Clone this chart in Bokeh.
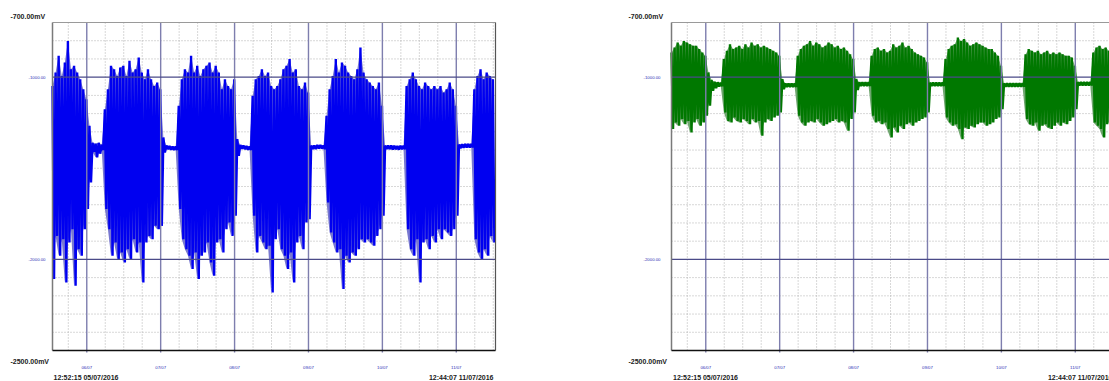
from bokeh.plotting import figure
from bokeh.models import Range1d, Grid
from bokeh.core.properties import value
from bokeh.layouts import row
from bokeh.embed import file_html
from bokeh.resources import INLINE

# hours since 12:52:15 05/07/2016
HOURS = list(range(144))
END_HOURS = 143.864  # 12:44:07 11/07/2016

blue_hi = [-1048, -974, -883, -993, -919, -801, -956, -938, -974, -1011, -1066, -1121, -1267,
           -1360, -1365, -1360, -1370,
           -1176, -1066, -938, -956, -993, -947, -938, -993, -910, -974, -956, -892, -974, -1011,
           -956, -1011, -1048, -1029, -1066,
           -1331, -1375, -1378, -1380, -1380,
           -1157, -1011, -956, -974, -883, -974, -938, -993, -956, -938, -919, -974, -938, -974,
           -1066, -1011, -1048, -1066, -1011,
           -1340, -1372, -1375, -1378, -1380,
           -1102, -1011, -993, -956, -993, -974, -1048, -1066, -1048, -1011, -956, -938, -901,
           -974, -956, -1048, -1066, -1029, -1084,
           -1375, -1375, -1372, -1372, -1375,
           -1212, -1066, -993, -901, -974, -919, -938, -974, -993, -1011, -956, -837, -974,
           -1011, -1029, -1048, -1066, -1029, -1157,
           -1375, -1375, -1375, -1376, -1378, -1376, -1376,
           -1048, -1011, -974, -1011, -1048, -1066, -1029, -1048, -1066, -1048, -1066, -1048,
           -1084, -1066, -1029, -1066, -1157,
           -1370, -1368, -1366, -1366, -1366,
           -1066, -993, -956, -1011, -974, -993, -1011]

blue_lo = [-2108, -1871, -1980, -1889, -2127, -1907, -1834, -2145, -1944, -1980, -1834, -1724, -1578,
           -1410, -1440, -1420, -1400,
           -1724, -1834, -1980, -1907, -1999, -1962, -2017, -1944, -1999, -1889, -1962, -1907,
           -2127, -1907, -1871, -1889, -1816, -1834, -1816,
           -1413, -1395, -1398, -1400, -1400,
           -1724, -1889, -1944, -1980, -2053, -1962, -2108, -1980, -1962, -1907, -2017, -2090,
           -1907, -1889, -1962, -1834, -1797, -1871, -1761,
           -1432, -1392, -1395, -1398, -1400,
           -1761, -1962, -1871, -1907, -1944, -1925, -2181, -1889, -1834, -1944, -1980, -2053,
           -1962, -2127, -1907, -1871, -1944, -1797, -1779,
           -1395, -1395, -1392, -1392, -1395,
           -1688, -1852, -1907, -1962, -1944, -2163, -1980, -2017, -1962, -1980, -1944, -1889,
           -1907, -1889, -1907, -1925, -1871, -1834, -1761,
           -1395, -1395, -1397, -1396, -1398, -1396, -1396,
           -1834, -1944, -1980, -1889, -2127, -1907, -1889, -1944, -1871, -1907, -1834, -1889,
           -1834, -1852, -1871, -1834, -1761,
           -1390, -1388, -1386, -1386, -1386,
           -1889, -1962, -1999, -1944, -1980, -1871, -1907]

green_hi = [-865, -837, -810, -828, -801, -810, -819, -828, -828, -846, -865, -883, -974,
            -1015, -1025, -1028, -1030,
            -901, -855, -819, -846, -837, -828, -846, -819, -837, -810, -828, -819, -837, -828,
            -837, -846, -855, -865, -883,
            -1011, -1034, -1034, -1034, -1034,
            -883, -846, -828, -819, -801, -828, -810, -819, -837, -828, -810, -819, -837, -828,
            -846, -837, -855, -874, -901,
            -1010, -1028, -1028, -1028, -1028,
            -883, -846, -837, -855, -846, -865, -855, -819, -837, -828, -810, -837, -828, -846,
            -865, -874, -883, -892, -919,
            -1030, -1030, -1030, -1030, -1030,
            -901, -846, -828, -819, -782, -801, -791, -810, -828, -819, -810, -819, -828, -837,
            -846, -846, -865, -883, -938,
            -1034, -1034, -1034, -1034, -1034, -1034, -1034,
            -874, -846, -855, -865, -855, -874, -865, -855, -874, -865, -874, -865, -874, -883,
            -883, -892, -938,
            -1027, -1027, -1027, -1027, -1027,
            -865, -837, -828, -846, -837, -855, -865]

green_lo = [-1285, -1249, -1267, -1230, -1258, -1240, -1304, -1249, -1230, -1267, -1249, -1212, -1157,
            -1075, -1060, -1052, -1050,
            -1194, -1240, -1249, -1221, -1240, -1249, -1230, -1240, -1258, -1230, -1249, -1240,
            -1322, -1249, -1230, -1240, -1221, -1212, -1194,
            -1066, -1054, -1054, -1054, -1054,
            -1212, -1249, -1267, -1249, -1240, -1249, -1230, -1249, -1267, -1258, -1249, -1240,
            -1230, -1249, -1240, -1249, -1294, -1230, -1194,
            -1070, -1048, -1048, -1048, -1048,
            -1212, -1249, -1240, -1258, -1249, -1285, -1331, -1276, -1304, -1267, -1285, -1258,
            -1249, -1267, -1249, -1240, -1230, -1221, -1194,
            -1048, -1048, -1048, -1048, -1048,
            -1221, -1249, -1267, -1258, -1285, -1340, -1276, -1285, -1267, -1276, -1258, -1249,
            -1249, -1267, -1258, -1249, -1230, -1221, -1176,
            -1052, -1052, -1052, -1052, -1052, -1052, -1052,
            -1230, -1258, -1267, -1249, -1294, -1267, -1258, -1276, -1285, -1267, -1249, -1267,
            -1249, -1258, -1240, -1221, -1176,
            -1045, -1045, -1045, -1045, -1045,
            -1249, -1267, -1285, -1331, -1258, -1249, -1240]

midnight_hours = [11.129, 35.129, 59.129, 83.129, 107.129, 131.129]
midnight_labels = ["06/07", "07/07", "08/07", "09/07", "10/07", "11/07"]
six_hour_marks = [5.129, 17.129, 23.129, 29.129, 41.129, 47.129, 53.129, 65.129, 71.129, 77.129,
                  89.129, 95.129, 101.129, 113.129, 119.129, 125.129, 137.129, 143.129]
y_major = [-1000, -2000]
y_major_labels = ["-1000.00", "-2000.00"]
y_minor = [-800, -900, -1100, -1200, -1300, -1400, -1500, -1600, -1700, -1800, -1900,
           -2100, -2200, -2300, -2400]
Y_TOP, Y_BOTTOM = -700, -2500
y_top_label = "-700.00mV"
y_bottom_label = "-2500.00mV"
start_label = "12:52:15 05/07/2016"
end_label = "12:44:07 11/07/2016"

FONT = "Liberation Sans"
PXH = 443 / END_HOURS        # pixels per hour
MVP = 1800 / 328             # millivolts per pixel
FRAME_TOP = 22               # image y of the plot box top
FIG_H = 381


def tx(img_x, frame_left):
    return (img_x - frame_left) / PXH


def ty(img_y):
    return Y_TOP - (img_y - FRAME_TOP) * MVP


def zigzag(hours, hi, lo):
    xs, ys = [], []
    for h, a, b in zip(hours, hi, lo):
        xs += [h, h + 0.5]
        ys += [a, b]
    return xs, ys


def panel(fig_left, width, frame_left, hi, lo, color, fringe, pos):
    p = figure(width=width, height=FIG_H,
               x_range=Range1d(tx(fig_left, frame_left), tx(fig_left + width, frame_left)),
               y_range=Range1d(ty(FIG_H), ty(0)),
               output_backend="svg", toolbar_location=None,
               x_axis_location=None, y_axis_location=None, min_border=0)
    for g in p.select(type=Grid):
        g.visible = False
    p.outline_line_color = None
    p.background_fill_color = "white"
    p.border_fill_color = "white"

    # dotted minor grid
    n = len(six_hour_marks)
    p.segment(x0=six_hour_marks, y0=[Y_BOTTOM] * n, x1=six_hour_marks, y1=[Y_TOP] * n,
              line_color="#b0b0b0", line_width=1, line_dash="1 2")
    m = len(y_minor)
    p.segment(x0=[0] * m, y0=y_minor, x1=[END_HOURS] * m, y1=y_minor,
              line_color="#b0b0b0", line_width=1, line_dash="1 2")

    # signal: pale envelope with the dense trace on top
    p.varea(x=HOURS, y1=lo, y2=hi, fill_color=fringe, fill_alpha=1)
    xs, ys = zigzag(HOURS, hi, lo)
    p.line(x=xs, y=ys, line_color=color, line_width=2.4)

    # major grid
    k = len(midnight_hours)
    p.segment(x0=midnight_hours, y0=[Y_BOTTOM - 2 * MVP] * k, x1=midnight_hours, y1=[Y_TOP] * k,
              line_color="#7e7eae", line_width=1.4)
    j = len(y_major)
    p.segment(x0=[0] * j, y0=y_major, x1=[END_HOURS] * j, y1=y_major,
              line_color="#4a4a88", line_width=1.4)

    # plot box
    p.segment(x0=[0], y0=[Y_TOP], x1=[END_HOURS], y1=[Y_TOP], line_color="#9a9a9a", line_width=1)
    p.segment(x0=[0], y0=[Y_BOTTOM], x1=[0], y1=[Y_TOP], line_color="#7a7a7a", line_width=1.5)
    p.segment(x0=[END_HOURS], y0=[Y_BOTTOM], x1=[END_HOURS], y1=[Y_TOP], line_color="#555555",
              line_width=1.2)
    p.segment(x0=[0], y0=[Y_BOTTOM], x1=[END_HOURS], y1=[Y_BOTTOM], line_color="#111111",
              line_width=1.6)

    # tick labels
    p.text(x=midnight_hours, y=[ty(367)] * k, text=midnight_labels,
           text_font=value(FONT), text_font_size=value("4.3px"), text_color="#2a2ab4",
           text_align="center", text_baseline="middle")
    p.text(x=[tx(pos["ytick_right"], frame_left)] * j, y=y_major, text=y_major_labels,
           text_font=value(FONT), text_font_size=value("4.3px"), text_color="#2a2ab4",
           text_align="right", text_baseline="middle")

    big = dict(text_font=value(FONT), text_font_style="bold", text_font_size=value("7px"),
               text_color="#1a1a1a", text_baseline="middle")
    p.text(x=[tx(pos["top_x"], frame_left)], y=[ty(16)], text=[y_top_label], text_align="left", **big)
    p.text(x=[tx(pos["top_x"], frame_left)], y=[ty(360.5)], text=[y_bottom_label],
           text_align="left", **big)
    p.text(x=[tx(pos["start_x"], frame_left)], y=[ty(377)], text=[start_label],
           text_align="left", **big)
    p.text(x=[tx(pos["end_x"], frame_left)], y=[ty(377)], text=[end_label],
           text_align="right", **big)
    return p


p1 = panel(0, 590, 52, blue_hi, blue_lo, "#0000f0", "#7878d0",
           dict(ytick_right=45, top_x=10, start_x=53, end_x=493))
p2 = panel(590, 519, 671, green_hi, green_lo, "#007800", "#6ea66e",
           dict(ytick_right=660, top_x=628, start_x=672.5, end_x=1112))

layout = row(p1, p2)
open("out.html", "w").write(file_html(layout, INLINE))
